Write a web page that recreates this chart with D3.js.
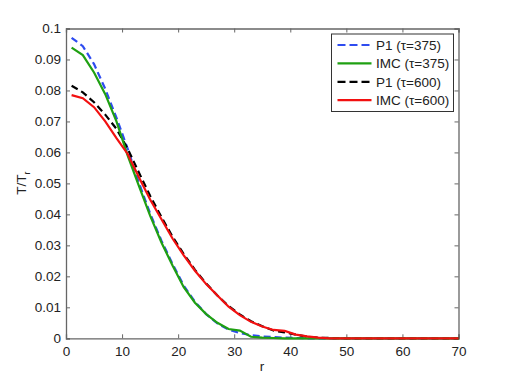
<!DOCTYPE html>
<html>
<head>
<meta charset="utf-8">
<script src="https://cdn.jsdelivr.net/npm/d3@7"></script>
<style>
	body { margin: 0; background: #fff; }
	text { font-family: "Liberation Sans", Arial, sans-serif; fill: #222; }
</style>
</head>
<body>
<div id="graphic"></div>
<script>
// radius values shared by all four profiles
const rValues = [1, 3, 5, 7, 9, 11, 13, 15, 17, 19, 21, 23, 25, 27, 29, 31, 33, 35, 37, 39, 41, 43, 45, 47, 50, 55, 60, 65, 70];

const p1Tau375 = [0.0970, 0.0943, 0.0885, 0.0805, 0.0712, 0.0612, 0.0502, 0.0403, 0.0316, 0.0240, 0.0170, 0.0118, 0.0078, 0.0048, 0.0028, 0.0017, 0.0010, 0.0006, 0.0004, 0.0002, 0.0001, 0, 0, 0, 0, 0, 0, 0, 0];
const imcTau375 = [0.0938, 0.0914, 0.0858, 0.0788, 0.0700, 0.0590, 0.0492, 0.0396, 0.0310, 0.0235, 0.0165, 0.0115, 0.0078, 0.0050, 0.0030, 0.0025, 0.0005, 0.0002, 0.0001, 0, 0, 0, 0, 0, 0, 0, 0, 0, 0];
const p1Tau600 = [0.0815, 0.0794, 0.0762, 0.0722, 0.0676, 0.0612, 0.0535, 0.0460, 0.0392, 0.0328, 0.0272, 0.0221, 0.0177, 0.0138, 0.0104, 0.0077, 0.0055, 0.0039, 0.0025, 0.0019, 0.0012, 0.0005, 0.0002, 0.0001, 0, 0, 0, 0, 0];
const imcTau600 = [0.0785, 0.0775, 0.0746, 0.0700, 0.0646, 0.0595, 0.0520, 0.0448, 0.0385, 0.0322, 0.0268, 0.0218, 0.0175, 0.0138, 0.0102, 0.0075, 0.0053, 0.0038, 0.0027, 0.0024, 0.0012, 0.0006, 0.0002, 0, 0, 0, 0, 0, 0];

const seriesNames = ["P1 (\u03c4=375)", "IMC (\u03c4=375)", "P1 (\u03c4=600)", "IMC (\u03c4=600)"];
const seriesColours = ["#2e4cf0", "#1fa012", "#000000", "#f21010"];
const seriesDashed = [true, false, true, false];

const xTicks = [0, 10, 20, 30, 40, 50, 60, 70];
const yTicks = [0, 0.01, 0.02, 0.03, 0.04, 0.05, 0.06, 0.07, 0.08, 0.09, 0.1];

const width = 507, height = 382;
const margin = { top: 28.5, right: 48.5, bottom: 43.7, left: 66 };
const chartWidth = width - margin.left - margin.right;
const chartHeight = height - margin.top - margin.bottom;

const svg = d3.select('#graphic')
	.append('svg')
	.attr('width', width)
	.attr('height', height);

const g = svg.append('g')
	.attr('transform', `translate(${margin.left},${margin.top})`);

const x = d3.scaleLinear().domain([0, 70]).range([0, chartWidth]);
const y = d3.scaleLinear().domain([0, 0.1]).range([chartHeight, 0]);

const axisColour = '#666';
const tickLen = 4;

//bottom axis with labels, top axis as bare ticks (matlab box style)
const xAxis = d3.axisBottom(x).tickValues(xTicks).tickSize(-tickLen).tickPadding(8).tickFormat(d3.format('d'));
const yAxis = d3.axisLeft(y).tickValues(yTicks).tickSize(-tickLen).tickPadding(5).tickFormat((d) => d === 0 ? '0' : d3.format('.2~f')(d));

g.append('g')
	.attr('class', 'x axis')
	.attr('transform', `translate(0,${chartHeight})`)
	.call(xAxis);

g.append('g')
	.attr('class', 'x axis top')
	.call(d3.axisTop(x).tickValues(xTicks).tickSize(-tickLen).tickFormat(''));

g.append('g')
	.attr('class', 'y axis')
	.call(yAxis);

g.append('g')
	.attr('class', 'y axis right')
	.attr('transform', `translate(${chartWidth},0)`)
	.call(d3.axisRight(y).tickValues(yTicks).tickSize(-tickLen).tickFormat(''));

g.selectAll('.axis path').attr('stroke', axisColour).attr('stroke-width', 1.3);
g.selectAll('.axis line').attr('stroke', axisColour);
g.selectAll('.axis text')
	.style('font-family', '"Liberation Sans", Arial, sans-serif')
	.style('font-size', '13.5px')
	.attr('fill', '#222');

//the lines
const seriesValues = [p1Tau375, imcTau375, p1Tau600, imcTau600];
const line = d3.line()
	.x((d) => x(d[0]))
	.y((d) => y(d[1]));

// draw order: solid lines on top of the dashed ones like the original
[0, 2, 1, 3].forEach((i) => {
	g.append('path')
		.datum(rValues.map((r, j) => [r, seriesValues[i][j]]))
		.attr('fill', 'none')
		.attr('stroke', seriesColours[i])
		.attr('stroke-width', 2.2)
		.attr('stroke-dasharray', seriesDashed[i] ? '7,4' : null)
		.attr('d', line);
});

//axis labels
svg.append('text')
	.attr('x', 262)
	.attr('y', 371)
	.attr('text-anchor', 'middle')
	.style('font-size', '13.5px')
	.text('r');

const yLabel = svg.append('text')
	.attr('transform', 'translate(26,183) rotate(-90)')
	.attr('text-anchor', 'middle')
	.style('font-size', '13.5px');
yLabel.append('tspan').text('T/T');
yLabel.append('tspan').attr('dy', 4).style('font-size', '9px').text('r');

//legend
const legend = svg.append('g').attr('transform', 'translate(331.5,34)');
legend.append('rect')
	.attr('width', 122)
	.attr('height', 77.5)
	.attr('fill', '#fff')
	.attr('stroke', '#333')
	.attr('stroke-width', 1);

seriesNames.forEach((name, i) => {
	const yPos = 11 + i * 18.4;
	legend.append('line')
		.attr('x1', 6).attr('x2', 40)
		.attr('y1', yPos).attr('y2', yPos)
		.attr('stroke', seriesColours[i])
		.attr('stroke-width', 2.2)
		.attr('stroke-dasharray', seriesDashed[i] ? '8,4' : null);
	legend.append('text')
		.attr('x', 44.5)
		.attr('y', yPos + 5)
		.style('font-size', '13.5px')
		.text(name);
});
</script>
</body>
</html>
